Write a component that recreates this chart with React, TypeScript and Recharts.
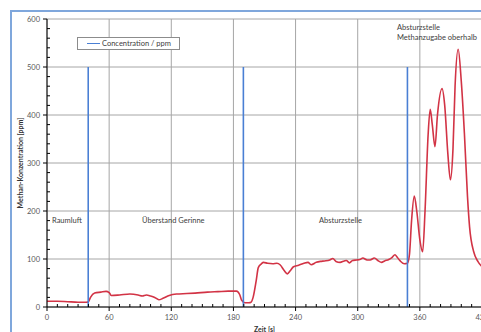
import { LineChart, Line, XAxis, YAxis, ReferenceLine } from 'recharts';

// time axis of the measurement (s)
const timeS = [
  0, 10, 20, 30, 38, 40, 42, 46, 52, 57, 60, 62, 70, 80, 88, 92, 96, 100, 104, 108,
  112, 118, 125, 135, 143, 155, 165, 175, 183, 186, 188, 191, 195, 197, 199, 202, 204, 207, 209, 213,
  218, 222, 225, 229, 232, 235, 238, 243, 248, 252, 255, 260, 264, 268, 273, 276, 279, 283, 287, 289,
  292, 295, 299, 302, 305, 309, 312, 316, 320, 323, 326, 330, 333, 336, 338, 341, 345, 348, 350, 352,
  354.6, 357, 360, 362.7, 365, 368, 370, 372, 374.6, 377, 381.4, 384, 387, 389.5, 392, 394, 397, 400, 403, 406,
  408, 412, 416, 420,
];

// methane concentration (ppm)
const methanePpm = [
  12, 12, 11, 10, 10, 11, 20, 29, 31, 32.5, 30, 24, 25, 27, 25, 23, 25, 23, 20, 15,
  18, 24, 27, 28, 29, 31, 32, 33, 33, 26, 14, 9, 9, 10, 20, 55, 82, 90, 93, 91,
  90, 91, 88, 76, 69, 76, 84, 87, 91, 93, 88, 93, 95, 96, 98, 101, 95, 93, 96, 97,
  92, 97, 98, 99, 102, 98, 98, 102, 96, 93, 96, 99, 103, 109, 104, 96, 90, 91, 110, 180,
  231, 200, 140, 115, 200, 360, 412, 380, 334, 400, 455, 420, 320, 265, 330, 460, 537, 470, 362, 230,
  167, 115, 95, 84,
];

// "Concentration / ppm" markers (vertical lines)
const markerTimes = [39.8, 189.6, 348];
const markerLow = 0;
const markerHigh = 500;

const xTicks = [0, 60, 120, 180, 240, 300, 360, 420];
const yTicks = [0, 100, 200, 300, 400, 500, 600];
const xMinorStep = 10;
const yMinorStep = 20;
const xAllTicks = Array.from({ length: 420 / xMinorStep + 1 }, (_, i) => i * xMinorStep);
const yAllTicks = Array.from({ length: 600 / yMinorStep + 1 }, (_, i) => i * yMinorStep);

const data = timeS.map((t, i) => ({ t, ppm: methanePpm[i] }));
const markerSegments = markerTimes.map((t) => [
  { t, conc: markerLow },
  { t, conc: markerHigh },
]);

const tickText = '#595959';

// major ticks point outward with a label, minor ticks point into the plot
const XTick = ({ x, y, payload }: any) => {
  if (xTicks.includes(payload.value)) {
    return (
      <g>
        <line x1={x} x2={x} y1={y} y2={y + 4} stroke="#000" />
        <text x={x} y={y + 12.5} textAnchor="middle" fontSize={7.5} fill={tickText}>
          {payload.value}
        </text>
      </g>
    );
  }
  return <line x1={x} x2={x} y1={y} y2={y - 3} stroke="#000" />;
};

const YTick = ({ x, y, payload }: any) => {
  if (yTicks.includes(payload.value)) {
    return (
      <g>
        <line x1={x - 4} x2={x} y1={y} y2={y} stroke="#000" />
        <text x={x - 7} y={y + 2.6} textAnchor="end" fontSize={7.5} fill={tickText}>
          {payload.value}
        </text>
      </g>
    );
  }
  return <line x1={x} x2={x + 3} y1={y} y2={y} stroke="#000" />;
};

const note: React.CSSProperties = {
  position: 'absolute',
  fontSize: 7.5,
  lineHeight: 1,
  color: '#404040',
  whiteSpace: 'nowrap',
};

export default function App() {
  return (
    <div
      style={{
        position: 'fixed',
        left: 0,
        top: 0,
        width: 481,
        height: 332,
        overflow: 'hidden',
        background: '#fff',
        fontFamily: 'Lato, sans-serif',
      }}
    >
      <div
        style={{
          position: 'absolute',
          left: 10,
          top: 10,
          width: 520,
          height: 400,
          border: '2px solid #7fa7dc',
        }}
      />
      <div style={{ position: 'absolute', left: 0, top: 0 }}>
        <LineChart width={500} height={332} data={data} margin={{ top: 19, right: 18, bottom: 0, left: 12 }}>
          {xTicks.map((v) => (
            <ReferenceLine key={'gx' + v} x={v} stroke="#a6a6a6" strokeWidth={1} />
          ))}
          {yTicks.map((v) => (
            <ReferenceLine key={'gy' + v} y={v} stroke="#a6a6a6" strokeWidth={1} />
          ))}
          <XAxis
            dataKey="t"
            type="number"
            domain={[0, 420]}
            ticks={xAllTicks}
            interval={0}
            allowDataOverflow
            height={25}
            tickSize={0}
            tickMargin={0}
            tickLine={false}
            axisLine={{ stroke: '#000' }}
            tick={XTick}
            label={{
              value: 'Zeit [s]',
              position: 'insideBottom',
              offset: 0,
              style: { fontSize: 7, fontWeight: 700, fill: '#333' },
            }}
          />
          <YAxis
            type="number"
            domain={[0, 600]}
            ticks={yAllTicks}
            interval={0}
            width={35}
            tickSize={0}
            tickMargin={0}
            tickLine={false}
            axisLine={{ stroke: '#000' }}
            tick={YTick}
            label={{
              value: 'Methan-Konzentration [ppm]',
              angle: -90,
              position: 'insideLeft',
              offset: 9,
              style: { fontSize: 7, fontWeight: 700, fill: '#333', textAnchor: 'middle' },
            }}
          />
          <Line
            dataKey="ppm"
            type="monotone"
            stroke="#d23345"
            strokeWidth={1.6}
            dot={false}
            isAnimationActive={false}
          />
          {markerSegments.map((seg, i) => (
            <Line
              key={i}
              data={seg}
              dataKey="conc"
              type="linear"
              stroke="#4a7fd4"
              strokeWidth={1.6}
              dot={false}
              isAnimationActive={false}
            />
          ))}
        </LineChart>
      </div>

      <div
        style={{
          position: 'absolute',
          left: 77,
          top: 37,
          width: 103,
          height: 13,
          boxSizing: 'border-box',
          border: '1px solid #8c8c8c',
          background: '#fff',
          display: 'flex',
          alignItems: 'center',
          fontSize: 7.5,
          color: '#404040',
        }}
      >
        <span style={{ display: 'inline-block', width: 13, height: 1.6, background: '#4a7fd4', marginLeft: 9, marginRight: 2 }} />
        <span>Concentration / ppm</span>
      </div>

      <span style={{ ...note, left: 52, top: 217 }}>Raumluft</span>
      <span style={{ ...note, left: 142, top: 217 }}>Überstand Gerinne</span>
      <span style={{ ...note, left: 319, top: 217 }}>Absturzstelle</span>
      <span style={{ ...note, left: 397, top: 24 }}>Absturzstelle</span>
      <span style={{ ...note, left: 397, top: 34 }}>Methanzugabe oberhalb</span>
    </div>
  );
}
